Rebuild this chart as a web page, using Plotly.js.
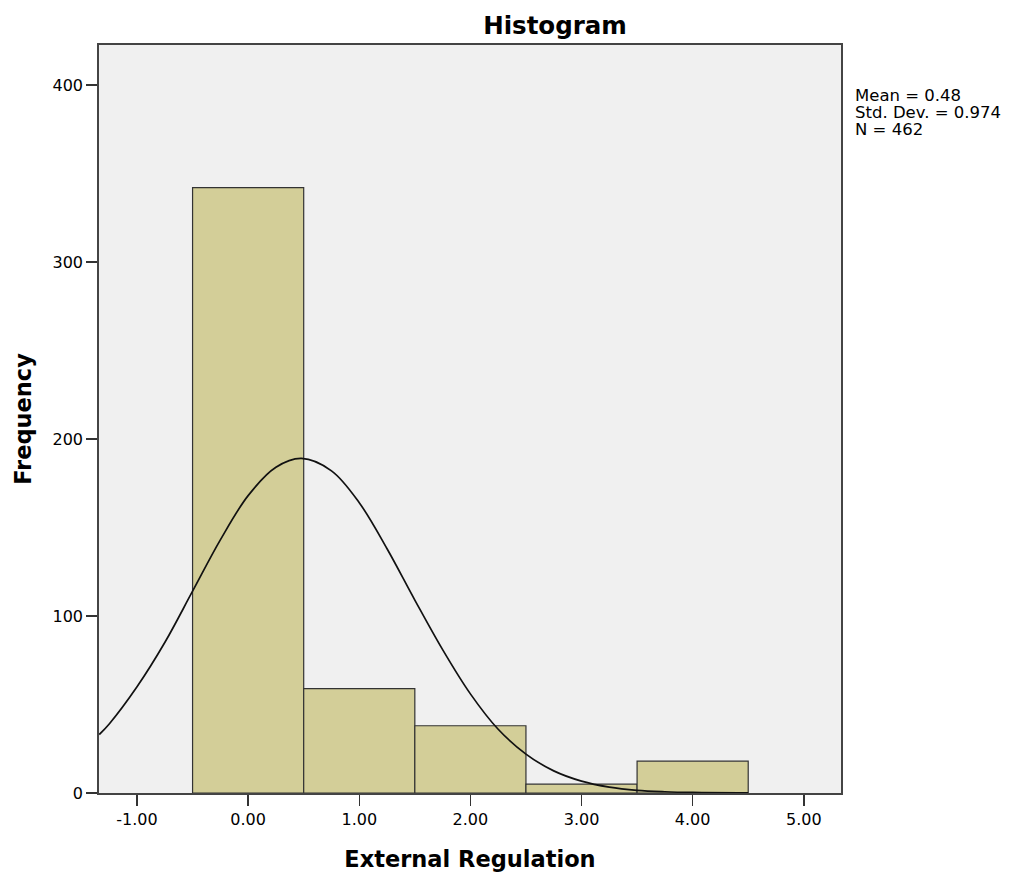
<!DOCTYPE html>
<html>
<head>
<meta charset="utf-8">
<script src="https://cdn.plot.ly/plotly-3.0.1.min.js"></script>
<style>html,body{margin:0;padding:0;background:#fff;}#chart{width:1015px;height:882px;}</style>
</head>
<body>
<div id="chart"></div>
<script>
// Histogram bins (bin centres) and frequencies
const binCenters = [0, 1, 2, 3, 4];
const frequencies = [342, 59, 38, 5, 18];

// Normal curve points
const curveX = [-1.34, -1.25, -1.0, -0.75, -0.5, -0.25, 0.0, 0.25, 0.48, 0.75, 1.0, 1.25, 1.5, 1.75, 2.0, 2.25, 2.5, 2.75, 3.0, 3.25, 3.5, 3.75, 4.0, 4.5];
const curveY = [33, 39, 60, 85, 114, 143, 168, 184, 189, 182, 164, 138, 109, 81, 56, 36, 22, 12.5, 6.7, 3.3, 1.5, 0.7, 0.3, 0.03];

const xTicks = [-1, 0, 1, 2, 3, 4, 5];
const xTickLabels = ["-1.00", "0.00", "1.00", "2.00", "3.00", "4.00", "5.00"];
const yTicks = [0, 100, 200, 300, 400];

const statsLines = ["Mean = 0.48", "Std. Dev. = 0.974", "N = 462"];

const font = "DejaVu Sans, Liberation Sans, Arial, sans-serif";

const traces = [
  {
    type: "bar",
    x: binCenters,
    y: frequencies,
    width: 1,
    marker: {color: "#d3ce98", line: {color: "#333333", width: 1.2}},
    hoverinfo: "skip",
    showlegend: false
  },
  {
    type: "scatter",
    mode: "lines",
    x: curveX,
    y: curveY,
    line: {color: "#111111", width: 1.7, shape: "spline", smoothing: 1},
    hoverinfo: "skip",
    showlegend: false
  }
];

const plotW = 742, plotH = 748;
const annotations = statsLines.map((t, i) => ({
  xref: "paper", yref: "paper",
  x: 1 + 12 / plotW, y: 1 - (50 + i * 17) / plotH,
  xanchor: "left", yanchor: "middle",
  align: "left",
  showarrow: false,
  text: t,
  font: {family: font, size: 16.5, color: "#000"}
}));

const layout = {
  width: 1015,
  height: 882,
  margin: {l: 99, r: 174, t: 45, b: 89},
  paper_bgcolor: "#ffffff",
  plot_bgcolor: "#f0f0f0",
  bargap: 0,
  title: {
    text: "<b>Histogram</b>",
    font: {family: font, size: 24.5, color: "#000"},
    x: 555 / 1015, xanchor: "center", xref: "container",
    y: 1 - 25 / 882, yanchor: "middle", yref: "container"
  },
  xaxis: {
    range: [-1.342, 5.335],
    tickvals: xTicks,
    ticktext: xTickLabels,
    ticks: "outside",
    ticklen: 11,
    tickwidth: 1.5,
    tickcolor: "#333",
    showgrid: false,
    zeroline: false,
    showline: true,
    linecolor: "#444",
    linewidth: 1.8,
    mirror: true,
    tickfont: {family: font, size: 16, color: "#000"},
    title: {text: "<b>External Regulation</b>", font: {family: font, size: 22.5, color: "#000"}, standoff: 23}
  },
  yaxis: {
    range: [0, 422.6],
    tickvals: yTicks,
    ticks: "outside",
    ticklen: 11,
    tickwidth: 1.5,
    tickcolor: "#333",
    showgrid: false,
    zeroline: false,
    showline: true,
    linecolor: "#444",
    linewidth: 1.8,
    mirror: true,
    tickfont: {family: font, size: 16, color: "#000"},
    title: {text: "<b>Frequency</b>", font: {family: font, size: 22.5, color: "#000"}, standoff: 14}
  },
  annotations: annotations
};

Plotly.newPlot("chart", traces, layout, {displayModeBar: false, staticPlot: true});
</script>
</body>
</html>
